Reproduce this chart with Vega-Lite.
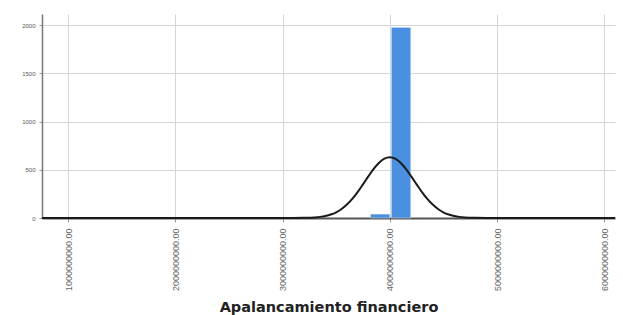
{
  "$schema": "https://vega.github.io/schema/vega-lite/v6.json",
  "autosize": {"type": "none"},
  "padding": {"left": 42, "top": 14, "right": 8, "bottom": 97},
  "width": 573,
  "height": 204,
  "background": "white",
  "config": {"view": {"stroke": null}, "font": "Liberation Sans"},
  "datasets": {
    "hist": [
      {"bin_start": 3820000000, "bin_end": 4000000000, "count": 40},
      {"bin_start": 4015000000, "bin_end": 4195000000, "count": 1975}
    ],
    "curve": [
      {"x": 757000000, "y": 0},
      {"x": 3000000000, "y": 0.05},
      {"x": 3100000000, "y": 0.3},
      {"x": 3200000000, "y": 1.49},
      {"x": 3300000000, "y": 6.14},
      {"x": 3350000000, "y": 11.6},
      {"x": 3400000000, "y": 20.96},
      {"x": 3450000000, "y": 36.1},
      {"x": 3500000000, "y": 59.3},
      {"x": 3550000000, "y": 92.9},
      {"x": 3600000000, "y": 138.9},
      {"x": 3650000000, "y": 197.8},
      {"x": 3700000000, "y": 269.0},
      {"x": 3750000000, "y": 348.9},
      {"x": 3800000000, "y": 431.6},
      {"x": 3850000000, "y": 509.4},
      {"x": 3900000000, "y": 573.2},
      {"x": 3950000000, "y": 615.3},
      {"x": 4000000000, "y": 630},
      {"x": 4050000000, "y": 615.3},
      {"x": 4100000000, "y": 573.2},
      {"x": 4150000000, "y": 509.4},
      {"x": 4200000000, "y": 431.6},
      {"x": 4250000000, "y": 348.9},
      {"x": 4300000000, "y": 269.0},
      {"x": 4350000000, "y": 197.8},
      {"x": 4400000000, "y": 138.9},
      {"x": 4450000000, "y": 92.9},
      {"x": 4500000000, "y": 59.3},
      {"x": 4550000000, "y": 36.1},
      {"x": 4600000000, "y": 20.96},
      {"x": 4650000000, "y": 11.6},
      {"x": 4700000000, "y": 6.14},
      {"x": 4800000000, "y": 1.49},
      {"x": 4900000000, "y": 0.3},
      {"x": 5000000000, "y": 0.05},
      {"x": 6100000000, "y": 0}
    ]
  },
  "layer": [
    {
      "data": {"name": "hist"},
      "mark": {"type": "rect", "color": "#4a8fe0", "stroke": "#cfe0f5", "strokeWidth": 0.5},
      "encoding": {
        "x": {
          "field": "bin_start", "type": "quantitative",
          "scale": {"domain": [757000000, 6100000000], "nice": false, "zero": false},
          "axis": {
            "values": [1000000000, 2000000000, 3000000000, 4000000000, 5000000000, 6000000000],
            "format": ".2f",
            "labelAngle": -90,
            "labelFontSize": 9,
            "labelColor": "#666666",
            "labelPadding": 6,
            "tickSize": 4,
            "tickColor": "#999999",
            "domainColor": "#555555",
            "domainWidth": 2,
            "grid": true,
            "gridColor": "#d6d6d6",
            "title": "Apalancamiento financiero",
            "titleFont": "DejaVu Sans",
            "titleFontSize": 14.5,
            "titleFontWeight": "bold",
            "titleColor": "#222222",
            "titlePadding": 10
          }
        },
        "x2": {"field": "bin_end"},
        "y": {
          "field": "count", "type": "quantitative",
          "scale": {"domain": [0, 2114], "nice": false},
          "axis": {
            "values": [0, 500, 1000, 1500, 2000],
            "format": "d",
            "labelFontSize": 6,
            "labelColor": "#555555",
            "labelPadding": 4,
            "tickSize": 3,
            "tickColor": "#999999",
            "domainColor": "#777777",
            "domainWidth": 1.5,
            "grid": true,
            "gridColor": "#d6d6d6",
            "title": null
          }
        },
        "y2": {"datum": 0}
      }
    },
    {
      "data": {"name": "curve"},
      "mark": {"type": "line", "color": "#1a1a1a", "strokeWidth": 2, "interpolate": "monotone"},
      "encoding": {
        "x": {"field": "x", "type": "quantitative"},
        "y": {"field": "y", "type": "quantitative"}
      }
    }
  ]
}
